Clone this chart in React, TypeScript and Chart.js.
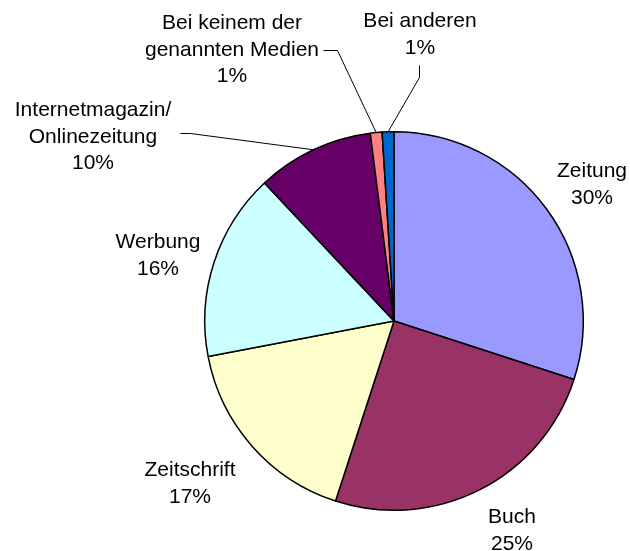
import React, { useEffect, useRef } from 'react';
import { Chart, registerables } from 'chart.js';

Chart.register(...registerables);

const categories = [
  'Zeitung',
  'Buch',
  'Zeitschrift',
  'Werbung',
  'Internetmagazin/\nOnlinezeitung',
  'Bei keinem der\ngenannten Medien',
  'Bei anderen',
];
const shares = [30, 25, 17, 16, 10, 1, 1];
const sliceColors = ['#9999FF', '#993366', '#FFFFCC', '#CCFFFF', '#660066', '#FF8080', '#0066CC'];

// label placement relative to the pie centre (first baseline), and optional leader line start/elbow
const labelLayout = [
  { dx: 198, dy: -144, leader: null },
  { dx: 118, dy: 202, leader: null },
  { dx: -204, dy: 155, leader: null },
  { dx: -236, dy: -73, leader: null },
  { dx: -301, dy: -205, leader: [[-214, -188], [-204, -188]] },
  { dx: -162, dy: -292, leader: [[-71, -271], [-57, -271]] },
  { dx: 26, dy: -294, leader: [[25, -256], [25, -244]] },
];

const FONT = '21px "Liberation Sans", Arial, sans-serif';
const LINE_H = 26.5;

const labelPlugin = {
  id: 'pieLabels',
  afterDatasetsDraw(chart: any) {
    const ctx = chart.ctx;
    const meta = chart.getDatasetMeta(0);
    ctx.save();
    ctx.font = FONT;
    ctx.fillStyle = '#000';
    ctx.textAlign = 'center';
    ctx.textBaseline = 'alphabetic';
    meta.data.forEach((arc: any, i: number) => {
      const { x, y, startAngle, endAngle, outerRadius } = arc.getProps(['x', 'y', 'startAngle', 'endAngle', 'outerRadius'], true);
      const lay = labelLayout[i];
      const lines = [...categories[i].split('\n'), `${shares[i]}%`];
      lines.forEach((t, k) => {
        ctx.fillText(t, x + lay.dx, y + lay.dy + k * LINE_H);
      });
      if (lay.leader) {
        const mid = (startAngle + endAngle) / 2;
        const ex = x + outerRadius * Math.cos(mid);
        const ey = y + outerRadius * Math.sin(mid);
        ctx.beginPath();
        ctx.strokeStyle = '#000';
        ctx.lineWidth = 1;
        ctx.moveTo(x + lay.leader[0][0] + 0.5, y + lay.leader[0][1] + 0.5);
        ctx.lineTo(x + lay.leader[1][0] + 0.5, y + lay.leader[1][1] + 0.5);
        ctx.lineTo(ex, ey);
        ctx.stroke();
      }
    });
    ctx.restore();
  },
};

export default function App() {
  const ref = useRef<HTMLCanvasElement>(null);
  useEffect(() => {
    if (!ref.current) return;
    const chart = new Chart(ref.current, {
      type: 'pie',
      data: {
        labels: categories,
        datasets: [
          {
            data: shares,
            backgroundColor: sliceColors,
            borderColor: '#000000',
            borderWidth: 1.5,
          },
        ],
      },
      options: {
        responsive: false,
        animation: false,
        devicePixelRatio: 1,
        layout: { padding: { left: 204, right: 46, top: 131, bottom: 40 } },
        plugins: {
          legend: { display: false },
          tooltip: { enabled: false },
        },
      },
      plugins: [labelPlugin],
    });
    return () => chart.destroy();
  }, []);
  return (
    <div style={{ position: 'absolute', left: 0, top: 0, width: 630, height: 551, background: '#fff' }}>
      <canvas ref={ref} width={630} height={551} />
    </div>
  );
}
